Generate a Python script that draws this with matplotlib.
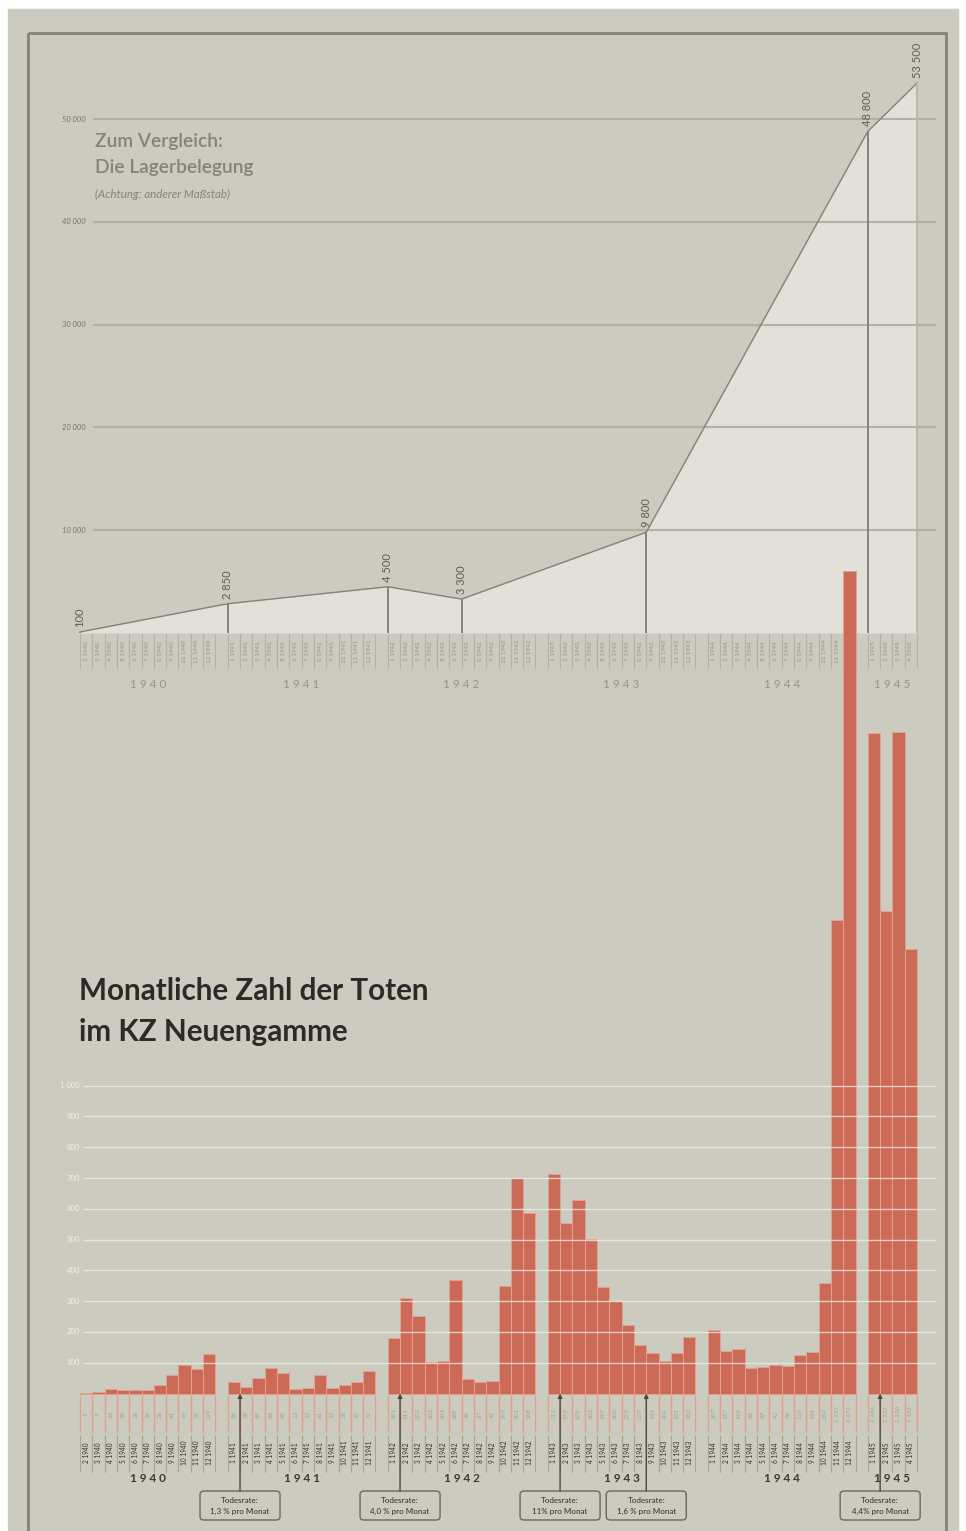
import matplotlib
matplotlib.use('Agg')
import matplotlib.pyplot as plt
from matplotlib.patches import Rectangle, FancyBboxPatch
import numpy as np

plt.rcParams['font.family'] = ['Lato', 'DejaVu Sans']

# ---- data ----
# monthly deaths, Feb 1940 .. Apr 1945
death_years = [1940] * 11 + [1941] * 12 + [1942] * 12 + [1943] * 12 + [1944] * 12 + [1945] * 4
death_months = list(range(2, 13)) + list(range(1, 13)) * 4 + [1, 2, 3, 4]
deaths = [1, 5, 14, 10, 10, 10, 26, 61, 93, 79, 129,
          36, 20, 49, 84, 68, 13, 17, 61, 17, 28, 37, 72,
          181, 311, 252, 102, 104, 369, 48, 37, 42, 349, 701, 588,
          713, 553, 629, 502, 347, 300, 223, 159, 133, 104, 131, 183,
          207, 137, 143, 82, 87, 92, 90, 126, 134, 359, 1537, 2673,
          2146, 1567, 2150, 1445]

# camp population (Lagerbelegung)
pop_years = [1940, 1941, 1942, 1942, 1943, 1945, 1945]
pop_months = [2, 1, 1, 7, 9, 1, 5]
population = [100, 2850, 4500, 3300, 9800, 48800, 53500]

# death rate notes
rate_years = [1941, 1942, 1943, 1943, 1945]
rate_months = [2, 2, 2, 9, 2]
rate_texts = ['1,3 %', '4,0 %', '11%', '1,6 %', '4,4%']

death_ticks = list(range(100, 1001, 100))
pop_ticks = [10000, 20000, 30000, 40000, 50000]
years = [1940, 1941, 1942, 1943, 1944, 1945]

# ---- layout (pixels) ----
W, H = 966, 1531
X0 = 80.0          # left edge of first slot
SW = 12.31         # slot width
D_BASE = 1393.5    # deaths baseline
D_SC = 0.3078      # px per death
P_BASE = 633.0     # population baseline
P_SC = 0.01028     # px per prisoner

BG = '#cccbc0'
FILL = '#e1e0d9'
LINE = '#858277'
BAR = '#cc6a58'

year_base = {1940: -1, 1941: 12, 1942: 25, 1943: 38, 1944: 51, 1945: 64}


def slot(y, m):
    return year_base[y] + m - 1


def fmt(v):
    return f'{v:,}'.replace(',', ' ')


def dy(py):
    return (D_BASE - py) / D_SC


def py_(py):
    return (P_BASE - py) / P_SC


def sx(px):
    return (px - X0) / SW


fig = plt.figure(figsize=(W / 100, H / 100), dpi=100)
fig.patch.set_facecolor('white')

ax0 = fig.add_axes([0, 0, 1, 1])
ax0.set_xlim(0, W)
ax0.set_ylim(H, 0)
ax0.axis('off')
ax0.add_patch(Rectangle((8, 9), 950, H, color=BG, zorder=0))
ax0.add_patch(Rectangle((28, 33), 918, H, fill=False, ec='#858176', lw=2, zorder=5))

axp = fig.add_axes([0, 0, 1, 1], zorder=1)
axp.set_xlim(sx(0), sx(W))
axp.set_ylim(py_(H), py_(0))
axp.axis('off')

axd = fig.add_axes([0, 0, 1, 1], zorder=2)
axd.set_xlim(sx(0), sx(W))
axd.set_ylim(dy(H), dy(0))
axd.axis('off')

# ---- upper chart: population ----
px_ = [slot(y, m) for y, m in zip(pop_years, pop_months)]
axp.fill_between(px_, population, 0, color=FILL, lw=0, zorder=1)
axp.plot(px_, population, color=LINE, lw=1, zorder=3)
axp.hlines(pop_ticks, sx(93), sx(936), color='#b3b0a2', lw=1.5, zorder=2)
for t in pop_ticks:
    axp.text(sx(86), t, fmt(t), ha='right', va='center', fontsize=5.5,
             style='italic', color='#77746b')
for i, (x, v) in enumerate(zip(px_, population)):
    last = i == len(px_) - 1
    axp.vlines(x, 0, v, color='#bab7ab' if last else LINE, lw=1.4, zorder=3)
    axp.text(x, v + 5 / P_SC, fmt(v), rotation=90, ha='center', va='bottom',
             fontsize=8, color='#5f5c54')

axp.text(sx(95), py_(141), 'Zum Vergleich:', fontsize=13.8, color='#85827a',
         fontweight='semibold', va='center')
axp.text(sx(95), py_(167), 'Die Lagerbelegung', fontsize=13.8, color='#85827a',
         fontweight='semibold', va='center')
axp.text(sx(95), py_(194), '(Achtung: anderer Maßstab)', fontsize=8.3, color='#85827a',
         style='italic', va='center')

# date labels under population chart
for y, m in zip(death_years, death_months):
    s = slot(y, m)
    axp.vlines([s, s + 1], py_(634), py_(668), color='#b4b1a5', lw=0.8)
    axp.text(s + 0.5, py_(651), f'{m} {y}', rotation=90, ha='center', va='center',
             fontsize=4.5, color='#98958a')
for y in years:
    ss = [slot(y, m) for y2, m in zip(death_years, death_months) if y2 == y]
    axp.text((min(ss) + max(ss) + 1) / 2, py_(685), ' '.join(str(y)), ha='center',
             va='center', fontsize=8.5, color='#96938a')

# ---- lower chart: deaths ----
ds = np.array([slot(y, m) for y, m in zip(death_years, death_months)])
axd.bar(ds + 0.5, deaths, width=1, color=BAR, edgecolor='#e4a08f', lw=0.7, zorder=2)
axd.hlines(death_ticks, sx(83), sx(936), color='#efeee8', lw=1, alpha=0.75, zorder=3)
for t in death_ticks:
    axd.text(sx(80), t, fmt(t), ha='right', va='center', fontsize=5.5, color='#f1f0ea')

for s, v, y, m in zip(ds, deaths, death_years, death_months):
    axd.vlines([s, s + 1], dy(1395), dy(1432), color='#e3a090', lw=0.9)
    axd.text(s + 0.5, dy(1414), fmt(v), rotation=90, ha='center', va='center',
             fontsize=4.5, color='#a39d93', style='italic')
    axd.vlines([s, s + 1], dy(1435), dy(1472), color='#a9a699', lw=0.8)
    axd.text(s + 0.5, dy(1453), f'{m} {y}', rotation=90, ha='center', va='center',
             fontsize=4.7, color='#2f2e2b')
for y in years:
    ss = [s for s, y2 in zip(ds, death_years) if y2 == y]
    axd.text((min(ss) + max(ss) + 1) / 2, dy(1478), ' '.join(str(y)), ha='center',
             va='center', fontsize=8.5, color='#3a3935', fontweight='bold')

axd.text(sx(79), dy(991), 'Monatliche Zahl der Toten', fontsize=21.3, color='#2b2a27',
         fontweight='bold', va='center')
axd.text(sx(79), dy(1032), 'im KZ Neuengamme', fontsize=21.3, color='#2b2a27',
         fontweight='bold', va='center')

bw, bh = 80 / SW, 29 / D_SC
for y, m, r in zip(rate_years, rate_months, rate_texts):
    s = slot(y, m)
    axd.add_patch(FancyBboxPatch((s - bw / 2, dy(1520)), bw, bh,
                                 boxstyle='round,pad=0,rounding_size=0.35',
                                 mutation_aspect=bh / bw * 2.2,
                                 fc=BG, ec='#6b685f', lw=1, zorder=4))
    axd.text(s, dy(1506), f'Todesrate:\n{r} pro Monat', ha='center', va='center',
             fontsize=5.8, color='#2f2e2b', linespacing=1.6, zorder=5)
    axd.annotate('', xy=(s, 0), xytext=(s, dy(1491)),
                 arrowprops=dict(arrowstyle='-|>', color='#4a4843', lw=1,
                                 shrinkA=0, shrinkB=0, mutation_scale=6),
                 zorder=4)

fig.savefig('out.png', dpi=100, facecolor='white')
